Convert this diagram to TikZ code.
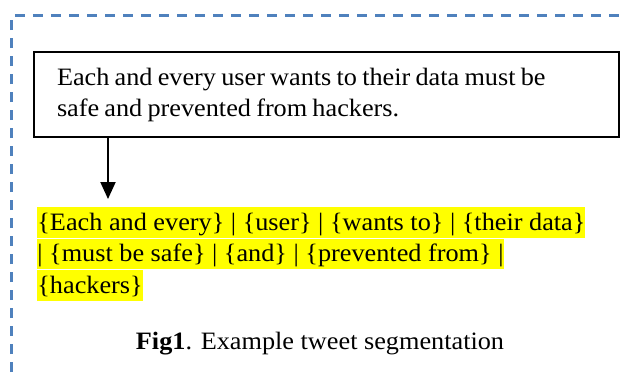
\documentclass[tikz,border=0pt]{standalone}
\usepackage{fontspec}
\setmainfont[FakeStretch=1.05]{Liberation Serif}
\usepackage{xcolor}
\usepackage{tikz}
\usetikzlibrary{arrows.meta,positioning}

\definecolor{frameblue}{RGB}{79,129,189}
\definecolor{hlyellow}{RGB}{255,255,0}

\begin{document}
\begin{tikzpicture}[
					x=0.5pt, y=-0.5pt,
					font=\fontsize{12.5pt}{15.5pt}\selectfont,
					tweetbox/.style={
						rectangle, draw=black, line width=0.8pt,
						minimum width=292.5pt, minimum height=42.5pt,
						text width=269.5pt, align=left, inner xsep=11.5pt
					},
					segline/.style={
						rectangle, fill=hlyellow, inner sep=0pt,
						text height=11.5pt, text depth=3.8pt, anchor=north west
					},
					arr/.style={-{Triangle[width=7.5pt,length=8.5pt]}, line width=1pt, black},
					frame/.style={draw=frameblue, line width=1.1pt, dash pattern=on 5pt off 4pt},
					capt/.style={anchor=base}
					]
					\useasboundingbox (0,0) rectangle (627,372);
					%% dashed frame of the figure
					\draw[frame] (11.5,372) -- (11.5,15.5) -- (621,15.5);
					
					%% tweet and its segments
					\node[tweetbox] (tweet) at (326.5,94.5)
					{\spaceskip=2.6pt plus 1pt minus 1pt
					Each and every user wants to their data must be\\safe and prevented from hackers.};
					
					\node[segline] (seg1) at (37,207)
					{\{Each and every\} | \{user\} | \{wants to\} | \{their data\}};
					\node[segline] (seg2) at (seg1.south west)
					{| \{must be safe\} | \{and\} | \{prevented from\} |};
					\node[segline] (seg3) at (seg2.south west)
					{\{hackers\}};
					
					\coordinate (drop) at (108,199);
					\draw[arr] (tweet.south -| drop) -- (drop);
					
					\node[capt] (caption) at (320,349) {\textbf{Fig1}. Example tweet segmentation};
				\end{tikzpicture}
\end{document}
